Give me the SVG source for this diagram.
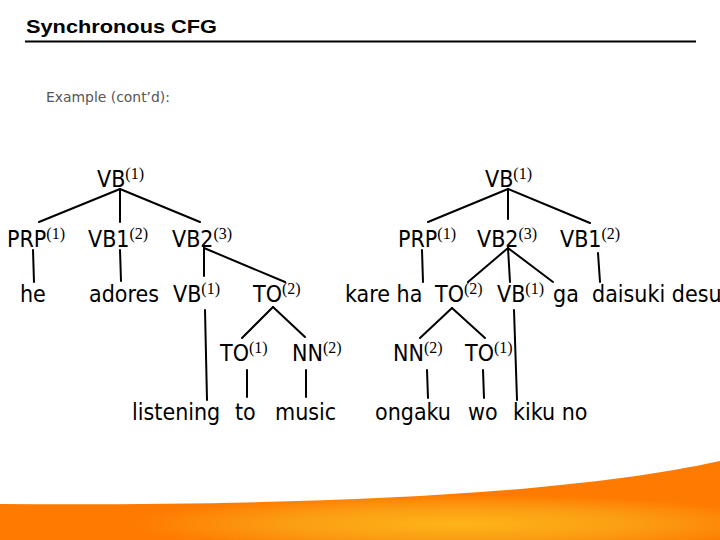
<svg xmlns="http://www.w3.org/2000/svg" width="720" height="540" viewBox="0 0 720 540">
<defs>
<style>
.t{font-family:"DejaVu Sans Condensed","DejaVu Sans",sans-serif;font-size:23px;fill:#000}
.s{font-family:"Liberation Serif",serif;font-size:16px}
.c line{stroke:#000;stroke-width:2;stroke-linecap:round}
</style>
<radialGradient id="og" gradientUnits="userSpaceOnUse" cx="460" cy="524" r="330" gradientTransform="translate(460,524) scale(1,0.09) translate(-460,-524)">
<stop offset="0" stop-color="#FDB519"/>
<stop offset="0.55" stop-color="#FB9C12"/>
<stop offset="1" stop-color="#FF7A00"/>
</radialGradient>
</defs>
<rect width="720" height="540" fill="#fff"/>
<path d="M0,504 C300,506 560,496 720,461 L720,540 L0,540 Z" fill="url(#og)"/>
<g id="title">
<text x="26" y="33" font-family="Liberation Sans,Arial,sans-serif" font-weight="bold" font-size="18" textLength="191" lengthAdjust="spacingAndGlyphs">Synchronous CFG</text>
<line x1="25" y1="41.5" x2="696" y2="41.5" stroke="#000" stroke-width="2"/>
</g>
<g id="subtitle">
<text x="46" y="102" font-family="DejaVu Sans Condensed,sans-serif" font-size="14" fill="#555" textLength="124" lengthAdjust="spacingAndGlyphs">Example (cont’d):</text>
</g>
<g id="connectors" class="c">
<line x1="120" y1="189" x2="39" y2="222"/>
<line x1="120" y1="189" x2="120" y2="222"/>
<line x1="120" y1="189" x2="200" y2="222"/>
<line x1="33" y1="250" x2="34" y2="282"/>
<line x1="120" y1="250" x2="121" y2="281"/>
<line x1="204" y1="248" x2="204" y2="276"/>
<line x1="204" y1="248" x2="285" y2="282"/>
<line x1="205" y1="310" x2="207" y2="400"/>
<line x1="273" y1="307" x2="242" y2="338"/>
<line x1="273" y1="307" x2="305" y2="337"/>
<line x1="247" y1="370" x2="247" y2="397"/>
<line x1="306" y1="370" x2="306" y2="397"/>
<line x1="508" y1="189" x2="428" y2="222"/>
<line x1="508" y1="189" x2="508" y2="219"/>
<line x1="508" y1="189" x2="590" y2="223"/>
<line x1="422" y1="250" x2="423" y2="282"/>
<line x1="508" y1="248" x2="468" y2="282"/>
<line x1="508" y1="248" x2="510" y2="282"/>
<line x1="508" y1="248" x2="553" y2="282"/>
<line x1="598" y1="253" x2="600" y2="282"/>
<line x1="452" y1="308" x2="420" y2="338"/>
<line x1="452" y1="308" x2="485" y2="338"/>
<line x1="514" y1="310" x2="517" y2="400"/>
<line x1="427" y1="370" x2="428" y2="398"/>
<line x1="483" y1="370" x2="484" y2="398"/>
</g>
<g id="l-vb"><text class="t" x="97" y="187">VB<tspan class="s" dy="-8">(1)</tspan></text></g>
<g id="l-prp"><text class="t" x="7" y="247">PRP<tspan class="s" dy="-8">(1)</tspan></text></g>
<g id="l-vb1"><text class="t" x="88" y="247">VB1<tspan class="s" dy="-8">(2)</tspan></text></g>
<g id="l-vb2"><text class="t" x="172" y="247">VB2<tspan class="s" dy="-8">(3)</tspan></text></g>
<g id="l-he"><text class="t" x="20" y="302">he</text></g>
<g id="l-adores"><text class="t" x="89" y="302">adores</text></g>
<g id="l-vb-2"><text class="t" x="173" y="302">VB<tspan class="s" dy="-8">(1)</tspan></text></g>
<g id="l-to"><text class="t" x="253" y="302">TO<tspan class="s" dy="-8">(2)</tspan></text></g>
<g id="l-to1"><text class="t" x="220" y="361">TO<tspan class="s" dy="-8">(1)</tspan></text></g>
<g id="l-nn"><text class="t" x="292" y="361">NN<tspan class="s" dy="-8">(2)</tspan></text></g>
<g id="l-listening"><text class="t" x="132" y="420">listening</text></g>
<g id="l-to-w"><text class="t" x="235" y="420">to</text></g>
<g id="l-music"><text class="t" x="275" y="420">music</text></g>
<g id="r-vb"><text class="t" x="485" y="187">VB<tspan class="s" dy="-8">(1)</tspan></text></g>
<g id="r-prp"><text class="t" x="398" y="247">PRP<tspan class="s" dy="-8">(1)</tspan></text></g>
<g id="r-vb2"><text class="t" x="477" y="247">VB2<tspan class="s" dy="-8">(3)</tspan></text></g>
<g id="r-vb1"><text class="t" x="560" y="247">VB1<tspan class="s" dy="-8">(2)</tspan></text></g>
<g id="r-kareha"><text class="t" x="345" y="302">kare ha</text></g>
<g id="r-to"><text class="t" x="435" y="302">TO<tspan class="s" dy="-8">(2)</tspan></text></g>
<g id="r-vb-2"><text class="t" x="497" y="302">VB<tspan class="s" dy="-8">(1)</tspan></text></g>
<g id="r-ga"><text class="t" x="553" y="302">ga</text></g>
<g id="r-daisuki"><text class="t" x="592" y="302">daisuki desu</text></g>
<g id="r-nn"><text class="t" x="393" y="361">NN<tspan class="s" dy="-8">(2)</tspan></text></g>
<g id="r-to1"><text class="t" x="465" y="361">TO<tspan class="s" dy="-8">(1)</tspan></text></g>
<g id="r-ongaku"><text class="t" x="375" y="420">ongaku</text></g>
<g id="r-wo"><text class="t" x="468" y="420">wo</text></g>
<g id="r-kikuno"><text class="t" x="513" y="420">kiku no</text></g>
</svg>
